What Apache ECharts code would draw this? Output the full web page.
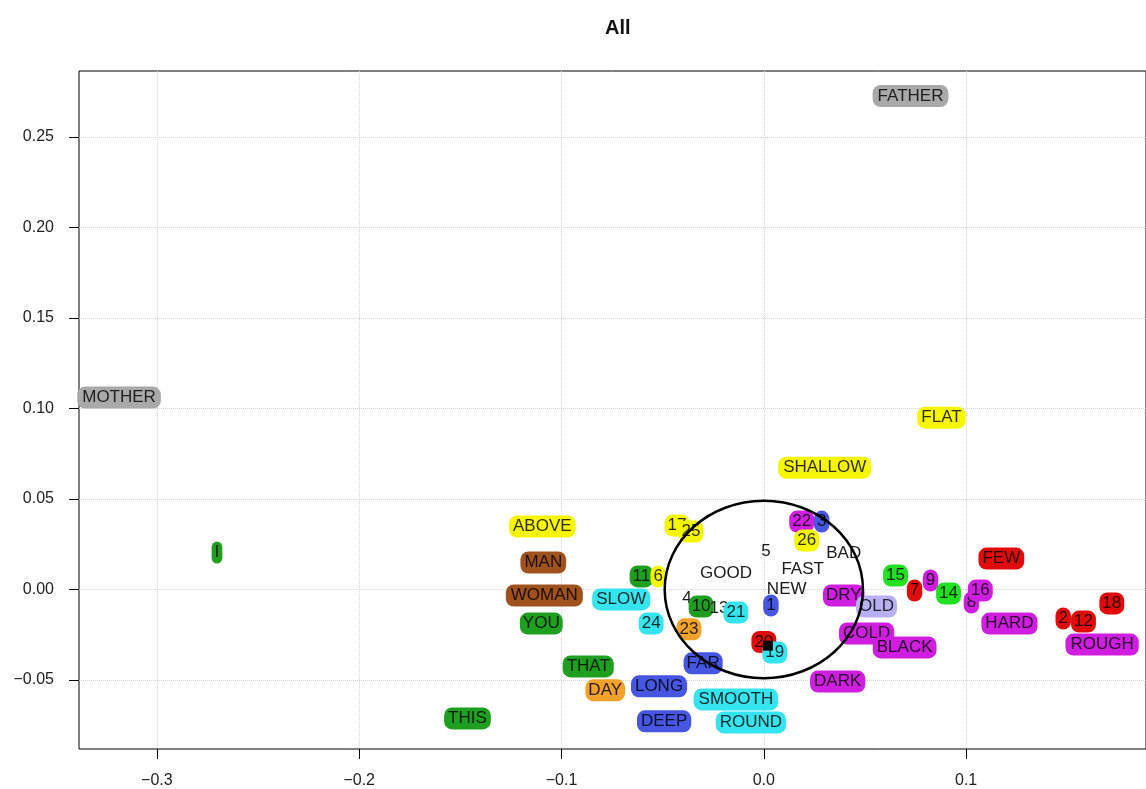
<!DOCTYPE html>
<html>
<head>
<meta charset="utf-8">
<script src="https://cdn.jsdelivr.net/npm/echarts@6/dist/echarts.min.js"></script>
<style>
  html, body { margin: 0; padding: 0; background: #fff; }
  #chart { width: 1146px; height: 789px; }
</style>
</head>
<body>
<div id="chart"></div>
<script>
// word positions (dim 1 / dim 2) and colour group
var words = ['FATHER','MOTHER','FLAT','SHALLOW','ABOVE','MAN','WOMAN','YOU','I','THIS','THAT','DAY','LONG','DEEP','FAR','SMOOTH','ROUND','SLOW',
  '11','6','24','23','17','25','GOOD','4','10','13','21','5','FAST','NEW','BAD','22','3','26','1','20','19',
  'DRY','OLD','COLD','BLACK','DARK','15','7','9','14','8','16','FEW','HARD','2','12','18','ROUGH'];
var xs = [0.0725,-0.3187,0.0878,0.0301,-0.1095,-0.109,-0.1085,-0.110,-0.2703,-0.1465,-0.0868,-0.0784,-0.0518,-0.0493,-0.030,-0.0138,-0.0064,-0.0705,
  -0.0605,-0.0522,-0.0557,-0.037,-0.0429,-0.036,-0.0187,-0.038,-0.031,-0.0222,-0.0138,0.001,0.0192,0.0113,0.0395,0.0187,0.0286,0.0212,0.0035,0.0,0.0054,
  0.0395,0.0557,0.0508,0.0696,0.0365,0.0651,0.0745,0.0824,0.0913,0.1026,0.107,0.1174,0.1214,0.148,0.158,0.172,0.1672];
var ys = [0.2726,0.106,0.0949,0.0673,0.0348,0.0149,-0.0033,-0.0188,0.0204,-0.0712,-0.0425,-0.0557,-0.0535,-0.0728,-0.0408,-0.0607,-0.0734,-0.0055,
  0.0072,0.0072,-0.0188,-0.022,0.0353,0.0320,0.0088,-0.005,-0.0094,-0.0105,-0.0127,0.021,0.011,0.0,0.0199,0.0375,0.0375,0.027,-0.0088,-0.029,-0.0348,
  -0.0033,-0.0094,-0.0243,-0.032,-0.0508,0.0077,-0.0006,0.005,-0.0022,-0.0072,-0.0006,0.0171,-0.0188,-0.016,-0.0177,-0.0077,-0.0304];
var groups = ['gray','gray','yellow','yellow','yellow','brown','brown','green','green','green','green','orange','blue','blue','blue','cyan','cyan','cyan',
  'green','yellow','cyan','orange','yellow','yellow','none','none','green','none','cyan','none','none','none','none','magenta','blue','yellow','blue','red','cyan',
  'magenta','lavender','magenta','magenta','magenta','lime','red','magenta','lime','magenta','magenta','red','magenta','red','red','red','magenta'];
var centroid = [[0.002, -0.031]];
var circle = [[0, 0, 0.049]]; // centre x, centre y, radius
var xTicks = [-0.3, -0.2, -0.1, 0.0, 0.1];
var yTicks = [-0.05, 0.00, 0.05, 0.10, 0.15, 0.20, 0.25];

var groupColors = {
  gray: '#a9a9a9', yellow: '#f6f600', brown: '#a0521e', green: '#1f9f1f', orange: '#f0a22a',
  blue: '#4656e0', cyan: '#34e4ee', magenta: '#d01ee0', lavender: '#b8b0f2', red: '#e00c0c',
  lime: '#22e022', none: null
};

var FONT = '"Liberation Sans", Arial, sans-serif';
var ctx = document.createElement('canvas').getContext('2d');
ctx.font = '17px ' + FONT;

var points = words.map(function (w, i) {
  var bg = groupColors[groups[i]];
  var tw = ctx.measureText(w).width;
  var px = Math.max(3, Math.round(2 + tw * 0.04));
  return {
    name: w,
    value: [xs[i], ys[i]],
    label: {
      backgroundColor: bg || 'transparent',
      padding: bg ? [2, px, 2, px] : 0,
      color: bg ? 'rgba(0,0,0,0.82)' : '#1a1a1a'
    }
  };
});

var chart = echarts.init(document.getElementById('chart'));
chart.setOption({
  animation: false,
  title: {
    text: 'All', left: 600, top: 13,
    textStyle: { fontFamily: FONT, fontSize: 20, fontWeight: 'bold', color: '#111' }
  },
  grid: { left: 79, right: -2, top: 71, bottom: 40, show: true, borderColor: '#000', borderWidth: 1 },
  xAxis: {
    type: 'value', min: -0.3385, max: 0.1889,
    axisLine: { show: false, onZero: false },
    axisTick: { show: true, length: 10, inside: false, customValues: xTicks, lineStyle: { color: '#000' } },
    axisLabel: {
      customValues: xTicks, margin: 24, color: '#222', fontFamily: FONT, fontSize: 16,
      formatter: function (v) { return v.toFixed(1).replace('-', '\u2212'); }
    },
    splitLine: { show: true, lineStyle: { color: '#d4d4d4', type: 'dotted' } }
  },
  yAxis: {
    type: 'value', min: -0.0881, max: 0.2864,
    axisLine: { show: false, onZero: false },
    axisTick: { show: true, length: 10, inside: false, customValues: yTicks, lineStyle: { color: '#000' } },
    axisLabel: {
      customValues: yTicks, margin: 25, color: '#222', fontFamily: FONT, fontSize: 16,
      formatter: function (v) { return v.toFixed(2).replace('-', '\u2212'); }
    },
    splitLine: { show: true, lineStyle: { color: '#d4d4d4', type: 'dotted' } }
  },
  series: [
    {
      type: 'scatter',
      data: points,
      symbolSize: 0,
      itemStyle: { opacity: 1 },
      label: {
        show: true, position: 'inside', formatter: '{b}',
        fontFamily: FONT, fontSize: 17, lineHeight: 18, borderRadius: 8
      },
      labelLayout: { hideOverlap: false },
      z: 3
    },
    {
      type: 'scatter',
      data: centroid,
      symbol: 'rect', symbolSize: 10,
      itemStyle: { color: '#000', opacity: 1 },
      z: 4
    },
    {
      type: 'custom',
      data: circle,
      renderItem: function (params, api) {
        var c = api.coord([api.value(0), api.value(1)]);
        var ex = api.coord([api.value(0) + api.value(2), api.value(1)]);
        var ey = api.coord([api.value(0), api.value(1) + api.value(2)]);
        return {
          type: 'ellipse',
          shape: { cx: c[0], cy: c[1], rx: ex[0] - c[0], ry: c[1] - ey[1] },
          style: { fill: 'none', stroke: '#000', lineWidth: 2.5 }
        };
      },
      z: 5
    }
  ]
});
</script>
</body>
</html>
